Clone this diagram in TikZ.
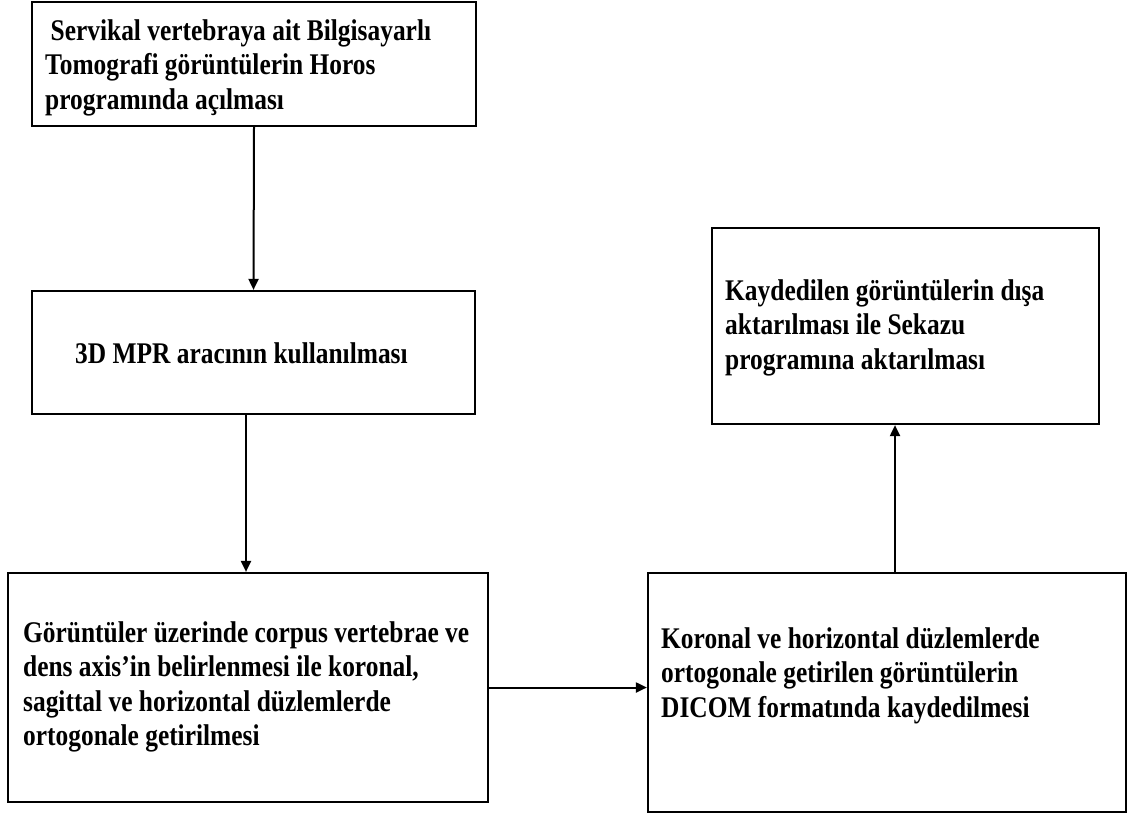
\documentclass[tikz,border=0pt]{standalone}
\usepackage{fontspec}
\setmainfont[FakeStretch=0.847]{Liberation Serif}
\usetikzlibrary{arrows.meta}
\begin{document}
\begin{tikzpicture}[x=1pt,y=-1pt,
  box/.style={draw, line width=2.2pt, inner sep=0pt},
  lbl/.style={anchor=base west, align=left, inner sep=0pt,
    font=\fontsize{30}{34.5}\selectfont\bfseries},
  arr/.style={line width=2pt, -{Triangle[length=11pt,width=10pt]}}]
\useasboundingbox (0,0) rectangle (1131,817);
% boxes
\node[box, minimum width=444pt, minimum height=124pt] (a) at (254,64) {};
\node[box, minimum width=443pt, minimum height=123pt] (b) at (253.5,352.5) {};
\node[box, minimum width=480pt, minimum height=229pt] (c) at (248,687.5) {};
\node[box, minimum width=478pt, minimum height=239pt] (d) at (887,692.5) {};
\node[box, minimum width=387pt, minimum height=196pt] (e) at (905.5,326) {};
% texts (anchor = baseline of last line)
\node[lbl] (ta) at (45,109) {\hspace{5.5pt}Servikal vertebraya ait Bilgisayarlı\\Tomografi görüntülerin Horos\\programında açılması};
\node[lbl] (tb) at (75,363) {3D MPR aracının kullanılması};
\node[lbl] (tc) at (23,745.5) {Görüntüler üzerinde corpus vertebrae ve\\dens axis’in belirlenmesi ile koronal,\\sagittal ve horizontal düzlemlerde\\ortogonale getirilmesi};
\node[lbl] (td) at (661,717) {Koronal ve horizontal düzlemlerde\\ortogonale getirilen görüntülerin\\DICOM formatında kaydedilmesi};
\node[lbl] (te) at (725,369) {Kaydedilen görüntülerin dışa\\aktarılması ile Sekazu\\programına aktarılması};
% connectors
\draw[arr] (a.south) -- (b.north);
\draw[arr] ([xshift=-7.5pt]b.south) -- ([xshift=-7.5pt]b.south |- c.north);
\draw[arr] (c.east) -- (c.east -| d.west);
\draw[arr] ([xshift=8pt]d.north) -- ([xshift=8pt]d.north |- e.south);
\end{tikzpicture}
\end{document}
